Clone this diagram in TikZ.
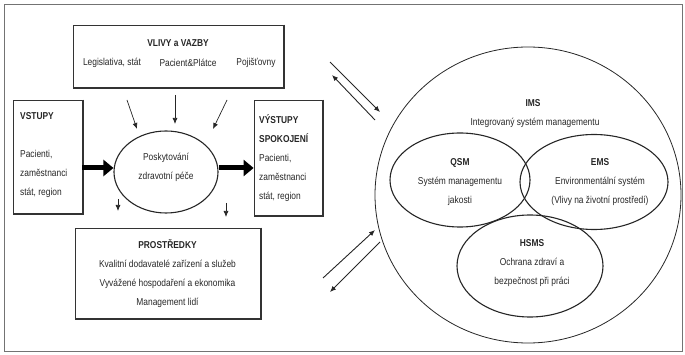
\documentclass[tikz,border=0pt]{standalone}
\usepackage{fontspec}
\setmainfont{Liberation Sans}[FakeStretch=0.84]
\usetikzlibrary{arrows.meta,shapes.geometric}
\begin{document}
\begin{tikzpicture}[x=1pt,y=-1pt,
  txt/.style={font=\fontsize{10}{19}\selectfont, inner sep=0pt, text=black!85},
  boxst/.style={draw=black!80, line width=0.8pt, inner sep=0pt},
  shade/.style={draw=black!80, line width=1.8pt},
  ell/.style={draw=black!85, ellipse, line width=1.1pt, inner sep=0pt},
  small/.style={draw=black!85, line width=0.7pt, -{Latex[length=6pt,width=5pt]}},
  big/.style={draw=black, line width=5pt, -{Triangle[length=10pt,width=16pt]}},
  pair/.style={draw=black!85, line width=0.9pt, -{Latex[length=6pt,width=5pt]}}]
\useasboundingbox (0,0) rectangle (685,355);
\draw[black!55, line width=1pt] (4,5) rectangle (682,351);

% boxes
\node[boxst, minimum width=210, minimum height=62] (vlivy) at (178,56) {};
\node[boxst, minimum width=69, minimum height=113] (vstupy) at (47.5,156.5) {};
\node[boxst, minimum width=68, minimum height=115] (vystupy) at (288,157.5) {};
\node[boxst, minimum width=185, minimum height=90] (prostr) at (167.5,273) {};
\foreach \b in {vlivy,vstupy,vystupy,prostr}{
  \draw[shade] ([shift={(0.9pt,0pt)}]\b.north east) -- ([shift={(0.9pt,-0.9pt)}]\b.south east) -- ([shift={(0pt,-0.9pt)}]\b.south west);
}

% texts in boxes
\node[txt, font=\fontsize{10}{19}\selectfont\bfseries] (vlivyT) at (178,43) {VLIVY a VAZBY};
\node[txt] (leg) at (112,63) {Legislativa, stát};
\node[txt] (pac) at (188,63) {Pacient\&Plátce};
\node[txt] (poj) at (256,63) {Pojišťovny};
\node[txt, align=left, anchor=west] (vstupyT) at (20,155.5) {\textbf{VSTUPY}\\\mbox{}\\Pacienti,\\zaměstnanci\\stát, region};
\node[txt, align=left, anchor=west] (vystupyT) at (259,158) {\textbf{VÝSTUPY}\\\textbf{SPOKOJENÍ}\\Pacienti,\\zaměstnanci\\stát, region};
\node[txt, align=center] (prostrT) at (167.5,273.5) {\textbf{PROSTŘEDKY}\\Kvalitní dodavatelé zařízení a služeb\\Vyvážené hospodaření a ekonomika\\Management lidí};

% central ellipse
\node[ell, minimum width=104, minimum height=82] (posk) at (166,172) {};
\node[txt, align=center] (poskT) at (166,167) {Poskytování\\zdravotní péče};

% big arrows
\draw[big] (vstupy.east |- 0,168) -- (posk.west |- 0,168);
\draw[big] (posk.east |- 0,168) -- (vystupy.west |- 0,168);

% small arrows from VLIVY
\coordinate (a1s) at (127,100); \coordinate (a1e) at (137,129);
\coordinate (a2s) at (175,95);  \coordinate (a2e) at (175,124);
\coordinate (a3s) at (227,100); \coordinate (a3e) at (213,129);
\draw[small] (a1s) -- (a1e);
\draw[small] (a2s) -- (a2e);
\draw[small] (a3s) -- (a3e);
% small arrows to PROSTREDKY
\coordinate (b1s) at (118,199); \coordinate (b1e) at (118,211);
\coordinate (b2s) at (226,203); \coordinate (b2e) at (226,217);
\draw[small] (b1s) -- (b1e);
\draw[small] (b2s) -- (b2e);

% IMS circle
\node[draw=black!85, ellipse, line width=0.8pt, minimum width=306, minimum height=296, inner sep=0pt] (ims) at (528,195) {};
\node[txt, font=\fontsize{10}{19}\selectfont\bfseries] (imsT) at (533,103) {IMS};
\node[txt] (imsS) at (535,123) {Integrovaný systém managementu};
\node[ell, minimum width=140, minimum height=94] (qsm) at (460,180) {};
\node[ell, minimum width=148, minimum height=95] (ems) at (594,182) {};
\node[ell, minimum width=146, minimum height=102] (hsms) at (530,266) {};
\node[txt, align=center] (qsmT) at (460,182.5) {\textbf{QSM}\\Systém managementu\\jakosti};
\node[txt, align=center] (emsT) at (600,182.5) {\textbf{EMS}\\Environmentální systém\\(Vlivy na životní prostředí)};
\node[txt, align=center] (hsmsT) at (532,263) {\textbf{HSMS}\\Ochrana zdraví a\\bezpečnost při práci};

% paired arrows
\coordinate (p1) at (330,62);  \coordinate (p2) at (380,112);
\coordinate (p3) at (375,120); \coordinate (p4) at (332,75);
\coordinate (q1) at (323,278); \coordinate (q2) at (375,230);
\coordinate (q3) at (380,242); \coordinate (q4) at (330,292);
\draw[pair] (p1) -- (p2);
\draw[pair] (p3) -- (p4);
\draw[pair] (q1) -- (q2);
\draw[pair] (q3) -- (q4);
\end{tikzpicture}
\end{document}
